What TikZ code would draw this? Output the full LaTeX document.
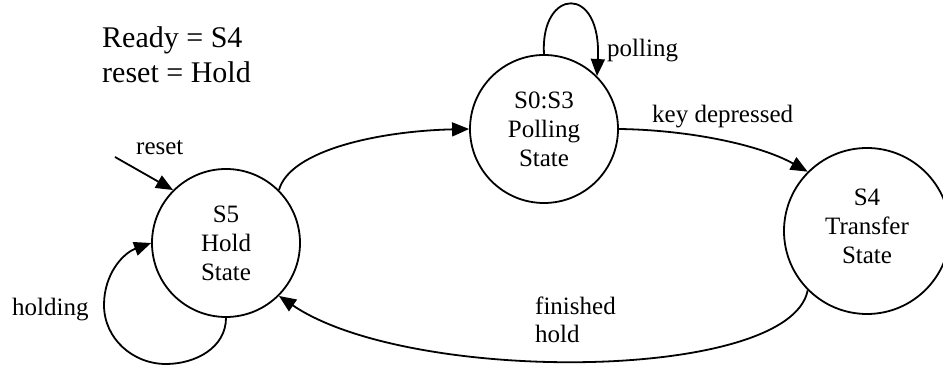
\documentclass[tikz,border=0pt]{standalone}
\usepackage{fontspec}
\setmainfont{Liberation Serif}
\usetikzlibrary{arrows.meta}
\begin{document}
\begin{tikzpicture}[x=1pt,y=1pt,
  state/.style={circle,draw,line width=1.8pt,align=center,inner sep=0pt,font=\fontsize{25}{29}\selectfont},
  lbl/.style={inner sep=0pt,anchor=base west,font=\fontsize{25}{29}\selectfont},
  big/.style={inner sep=0pt,anchor=base west,font=\fontsize{30}{35}\selectfont},
  edge/.style={line width=1.8pt,-{Triangle[length=17pt,width=14pt]}}]
\useasboundingbox (0,0) rectangle (943,366);
\clip (0,0) rectangle (943,366);
% states
\node[state,minimum size=148pt] (S5) at (226,123) {S5\\Hold\\State};
\node[state,minimum size=148pt] (S03) at (544,237) {S0:S3\\Polling\\State};
\node[state,minimum size=166pt,text depth=10pt] (S4) at (867,135) {S4\\Transfer\\State};
% header text
\node[big] (t1) at (102,318) {Ready = S4};
\node[big] (t2) at (102,283) {reset = Hold};
% reset arrow
\coordinate (rs) at (115,209);
\draw[edge] (rs) -- (S5.135);
\node[lbl] (lreset) at (136,211) {reset};
% S5 -> S0:S3
\draw[edge] (S5.45) .. controls (290,216) and (380,235) .. (S03.180);
% polling loop
\draw[edge] (S03.90) .. controls (540,378) and (602,383) .. (S03.45);
\node[lbl] (lpoll) at (607,309) {polling};
% key depressed
\draw[edge] (S03.0) .. controls (690,236) and (760,221) .. (S4.135);
\node[lbl] (lkey) at (652,243) {key depressed};
% finished hold
\draw[edge] (S4.225) .. controls (790,-16) and (410,-19) .. (S5.-45);
\node[lbl] (lfin) at (535,51) {finished};
\node[lbl] (lhold) at (535,23) {hold};
% holding loop
\coordinate (h1) at (166,2);
\coordinate (h2) at (104,61);
\draw[edge] (S5.270) to[out=-90,in=0] (h1) to[out=180,in=-90] (h2) to[out=90,in=200] (S5.180);
\node[lbl] (lholding) at (12,50) {holding};
\end{tikzpicture}
\end{document}
